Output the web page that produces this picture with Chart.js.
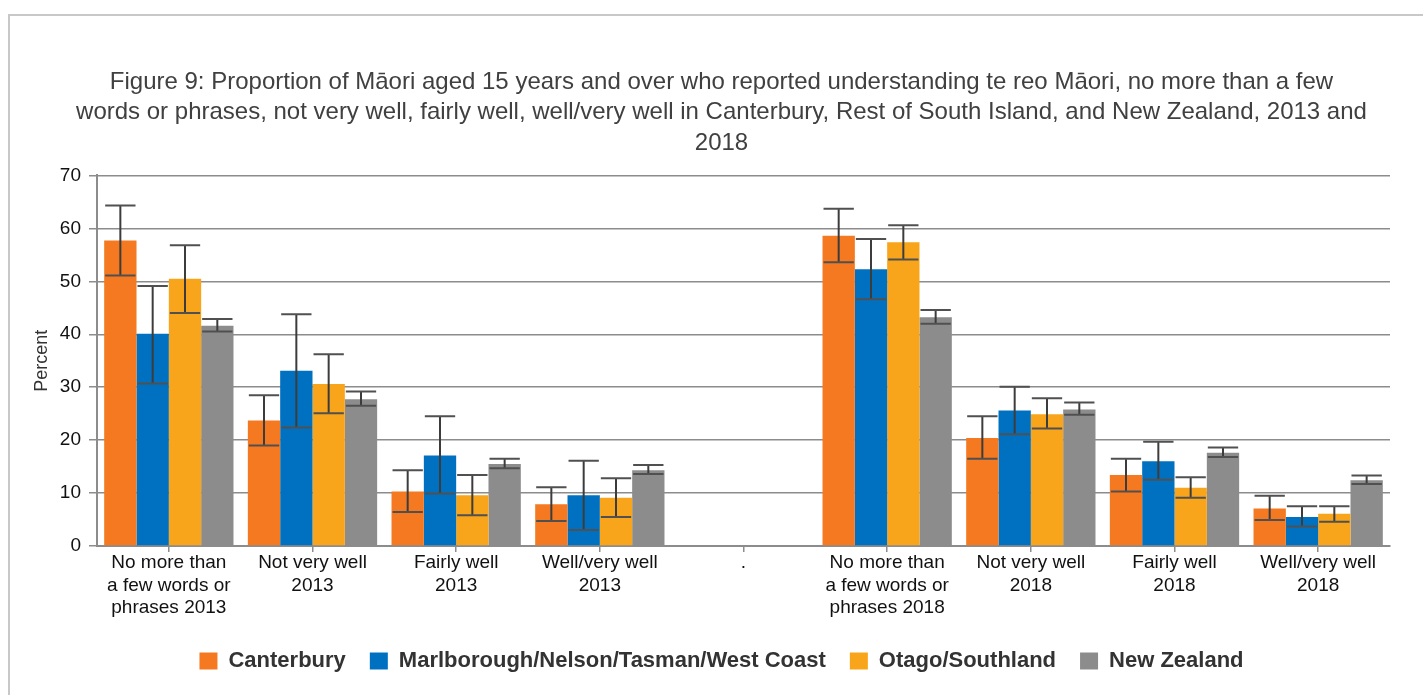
<!DOCTYPE html>
<html>
<head>
<meta charset="utf-8">
<script src="https://cdn.jsdelivr.net/npm/chart.js@4.4.0/dist/chart.umd.min.js"></script>
<style>
  html, body { margin: 0; padding: 0; background: #fff; overflow: hidden; }
  #marco { position: absolute; left: 8px; top: 14px; width: 1440px; height: 720px; border: 2px solid #c8c8c8; }
  #lienzo { position: absolute; left: 0; top: 0; width: 1423px; height: 695px; }
</style>
</head>
<body>
<div id="marco"></div>
<div id="lienzo"><canvas id="grafico" width="1423" height="695"></canvas></div>
<script>
// Datos
const categorias = [
  ['No more than', 'a few words or', 'phrases 2013'],
  ['Not very well', '2013'],
  ['Fairly well', '2013'],
  ['Well/very well', '2013'],
  '.',
  ['No more than', 'a few words or', 'phrases 2018'],
  ['Not very well', '2018'],
  ['Fairly well', '2018'],
  ['Well/very well', '2018']
];
const series = ['Canterbury', 'Marlborough/Nelson/Tasman/West Coast', 'Otago/Southland', 'New Zealand'];
const colores = ['#F47920', '#0070C0', '#F9A51B', '#8C8C8C'];

const canterbury   = [57.7, 23.7, 10.3, 7.9, null, 58.6, 20.4, 13.4, 7.1];
const marlborough  = [40.1, 33.1, 17.1, 9.6, null, 52.3, 25.6, 16.0, 5.5];
const otago        = [50.5, 30.6,  9.6, 9.1, null, 57.4, 24.9, 11.0, 6.1];
const nuevaZelanda = [41.6, 27.7, 15.5, 14.3, null, 43.2, 25.8, 17.6, 12.4];

// Intervalos de confianza (inferior / superior)
const canterburyBajo   = [51.1, 19.0,  6.4, 4.7, null, 53.6, 16.5, 10.3, 4.9];
const canterburyAlto   = [64.3, 28.5, 14.3, 11.1, null, 63.7, 24.5, 16.5, 9.5];
const marlboroughBajo  = [30.7, 22.4,  9.9, 3.0, null, 46.6, 21.1, 12.5, 3.7];
const marlboroughAlto  = [49.1, 43.8, 24.5, 16.1, null, 58.0, 30.1, 19.7, 7.5];
const otagoBajo        = [44.0, 25.1,  5.8, 5.5, null, 54.1, 22.2,  9.1, 4.6];
const otagoAlto        = [56.8, 36.2, 13.4, 12.8, null, 60.6, 27.9, 13.0, 7.5];
const nzBajo           = [40.5, 26.5, 14.7, 13.6, null, 42.0, 24.8, 16.8, 11.7];
const nzAlto           = [42.9, 29.2, 16.5, 15.3, null, 44.6, 27.1, 18.6, 13.3];

const valores = [canterbury, marlborough, otago, nuevaZelanda];
const bajos = [canterburyBajo, marlboroughBajo, otagoBajo, nzBajo];
const altos = [canterburyAlto, marlboroughAlto, otagoAlto, nzAlto];

const tituloLineas = [
  'Figure 9: Proportion of Māori aged 15 years and over who reported understanding te reo Māori, no more than a few',
  'words or phrases, not very well, fairly well, well/very well in Canterbury, Rest of South Island, and New Zealand, 2013 and',
  '2018'
];

// Barras de error dibujadas con la escala del gráfico
const barrasError = {
  id: 'barrasError',
  afterDatasetsDraw(chart){
    const ctx = chart.ctx;
    const ejeY = chart.scales.y;
    chart.data.datasets.forEach((ds, di) => {
      const meta = chart.getDatasetMeta(di);
      meta.data.forEach((barra, i) => {
        const lo = ds.errBajo[i], hi = ds.errAlto[i];
        if(lo == null || hi == null) return;
        const x = barra.x;
        const yLo = ejeY.getPixelForValue(lo);
        const yHi = ejeY.getPixelForValue(hi);
        const medio = barra.width / 2 - 1;
        ctx.save();
        ctx.strokeStyle = '#3c3c3c';
        ctx.lineWidth = 2;
        ctx.beginPath();
        ctx.moveTo(x, yLo); ctx.lineTo(x, yHi);
        ctx.stroke();
        ctx.strokeStyle = '#505050';
        ctx.beginPath();
        ctx.moveTo(x - medio, yLo); ctx.lineTo(x + medio, yLo);
        ctx.moveTo(x - medio, yHi); ctx.lineTo(x + medio, yHi);
        ctx.stroke();
        ctx.restore();
      });
    });
  }
};

const ctx = document.getElementById('grafico').getContext('2d');
new Chart(ctx, {
  type: 'bar',
  data: {
    labels: categorias,
    datasets: series.map((nombre, k) => ({
      label: nombre,
      data: valores[k],
      errBajo: bajos[k],
      errAlto: altos[k],
      backgroundColor: colores[k],
      borderWidth: 0,
      categoryPercentage: 0.9,
      barPercentage: 1.0
    }))
  },
  options: {
    responsive: false,
    animation: false,
    layout: { padding: { left: 53, right: 33, top: 0, bottom: 13 } },
    plugins: {
      title: {
        display: true,
        text: tituloLineas,
        color: '#404040',
        font: { family: 'Liberation Sans, Arial, sans-serif', size: 24, weight: 'normal', lineHeight: 1.27 },
        padding: { top: 67, bottom: 17 }
      },
      legend: {
        position: 'bottom',
        labels: {
          color: '#333',
          boxWidth: 18,
          boxHeight: 17,
          padding: 24,
          font: { family: 'Liberation Sans, Arial, sans-serif', size: 22, weight: 'bold' }
        }
      },
      tooltip: { enabled: false }
    },
    scales: {
      x: {
        grid: { offset: false, drawOnChartArea: false, tickLength: 6, color: '#8c8c8c', lineWidth: 1.5 },
        border: { color: '#8c8c8c', width: 2 },
        ticks: {
          color: '#111',
          autoSkip: false,
          maxRotation: 0,
          padding: 0,
          font: { family: 'Liberation Sans, Arial, sans-serif', size: 19, lineHeight: 1.18 }
        },
        afterFit(scale){ scale.height = 80; }
      },
      y: {
        min: 0,
        max: 70,
        ticks: {
          stepSize: 10,
          color: '#111',
          padding: 8,
          font: { family: 'Liberation Sans, Arial, sans-serif', size: 19 }
        },
        grid: { color: '#8c8c8c', lineWidth: 1.5, tickLength: 8 },
        border: { color: '#8c8c8c', width: 2 },
        title: {
          display: true,
          text: 'Percent',
          color: '#333',
          padding: { top: -22, bottom: 0 },
          font: { family: 'Liberation Sans, Arial, sans-serif', size: 18 }
        },
        afterFit(scale){ scale.width = 44; }
      }
    }
  },
  plugins: [barrasError]
});
</script>
</body>
</html>
